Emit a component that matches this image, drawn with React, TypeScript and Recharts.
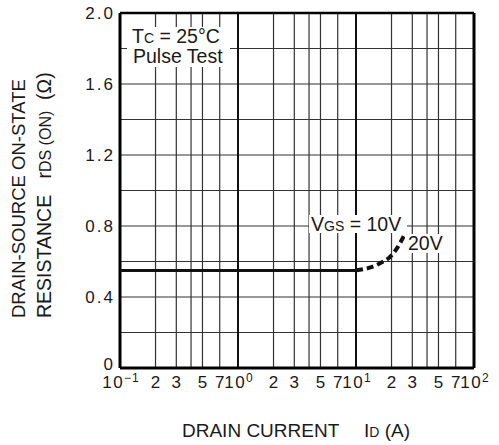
import React from "react";
import {
  LineChart,
  Line,
  XAxis,
  YAxis,
  CartesianGrid,
  ReferenceLine
} from "recharts";

// log axis grid: 2,3,4,5,7 between decades (4 has no label)
const xTicks = [0.1, 0.2, 0.3, 0.4, 0.5, 0.7, 1, 2, 3, 4, 5, 7, 10, 20, 30, 40, 50, 70, 100];
const xLabelDigits = [2, 3, 5, 7];
const yTicks = [0, 0.2, 0.4, 0.6, 0.8, 1.0, 1.2, 1.4, 1.6, 1.8, 2.0];
const yLabels = ["0", "0.4", "0.8", "1.2", "1.6", "2.0"];

// VGS = 10V (solid)
const solidId = [0.1, 10];
const solidRds = [0.55, 0.55];
// VGS = 20V (dashed)
const dashId = [10, 13, 16, 19.5, 22.5, 25.5];
const dashRds = [0.55, 0.565, 0.59, 0.627, 0.68, 0.745];

const solidData = solidId.map((id, i) => ({ id, rds: solidRds[i] }));
const dashData = dashId.map((id, i) => ({ id, rds: dashRds[i] }));

const FONT = "'Liberation Sans', Arial, Helvetica, sans-serif";
const INK = "#1a1a1a";

const XTick = (props: any) => {
  const { x, y, payload } = props;
  const v = payload.value;
  const exp = Math.floor(Math.log10(v) + 1e-9);
  const lead = Math.round(v / Math.pow(10, exp));
  if (lead === 1) {
    const sup = exp < 0 ? "\u2212" + -exp : String(exp);
    return (
      <text x={x + 1} y={y} dy="0.71em" textAnchor="middle" fontSize={17} letterSpacing={1.5}
        fill={INK} fontFamily={FONT}>
        10
        <tspan dy={-6} fontSize={12} letterSpacing={1}>{sup}</tspan>
      </text>
    );
  }
  if (!xLabelDigits.includes(lead)) return <g />;
  return (
    <text x={x} y={y} dy="0.71em" textAnchor="middle" fontSize={17} fill={INK} fontFamily={FONT}>
      {lead}
    </text>
  );
};

const YTick = (props: any) => {
  const { x, y, payload } = props;
  const v: number = payload.value;
  const label = v === 0 ? "0" : v.toFixed(1);
  if (!yLabels.includes(label)) return <g />;
  // the "0" sits a little above the bottom border, clear of the 10^-1 label
  const lift = v === 0 ? 4 : 0;
  return (
    <text x={x + 2} y={y - lift} dy="0.35em" textAnchor="end" fontSize={17} letterSpacing={2}
      fill={INK} fontFamily={FONT}>
      {label}
    </text>
  );
};

const Annotations: React.FC = () => (
  <svg
    width={499}
    height={445}
    style={{ position: "absolute", left: 0, top: 0, pointerEvents: "none" }}
    fontFamily={FONT}
    fill={INK}
  >
    <rect x={127} y={27} width={103} height={40} fill="#fff" />
    <text x={132} y={43} fontSize={19.5}>
      T<tspan fontSize={14}>C</tspan> = 25°C
    </text>
    <text x={133} y={63} fontSize={19.5}>Pulse Test</text>

    <rect x={309} y={215} width={98} height={18} fill="#fff" />
    <text x={311} y={231} fontSize={19.5}>
      V<tspan fontSize={14}>GS</tspan> = 10V
    </text>
    <rect x={405} y={234} width={41} height={19} fill="#fff" />
    <text x={408} y={250} fontSize={19.5}>20V</text>

    <g transform="translate(25,318) rotate(-90)">
      <text x={0} y={0} fontSize={18.5}>DRAIN-SOURCE ON-STATE</text>
    </g>
    <g transform="translate(51,318) rotate(-90)">
      <text x={0} y={0} fontSize={19.5}>
        RESISTANCE{"\u00a0\u00a0\u00a0"}r<tspan fontSize={16}>DS (ON)</tspan>
        {"\u00a0\u00a0"}(Ω)
      </text>
    </g>

    <text x={182} y={437} fontSize={19}>DRAIN CURRENT</text>
    <text x={364} y={437} fontSize={19}>
      I<tspan fontSize={14}>D</tspan> (A)
    </text>
  </svg>
);

export default function App() {
  return (
    <div style={{ position: "absolute", left: 0, top: 0, width: 499, height: 445, background: "#fff" }}>
      <LineChart width={499} height={445} margin={{ top: 13, right: 25, bottom: 47, left: 0 }}>
        <CartesianGrid stroke="#333" strokeWidth={1.2} />
        <XAxis
          dataKey="id"
          type="number"
          scale="log"
          domain={[0.1, 100]}
          ticks={xTicks}
          allowDataOverflow
          interval={0}
          height={30}
          axisLine={false}
          tickLine={false}
          tickSize={0}
          tickMargin={8}
          tick={<XTick />}
        />
        <YAxis
          type="number"
          domain={[0, 2]}
          ticks={yTicks}
          interval={0}
          width={120}
          axisLine={false}
          tickLine={false}
          tickSize={0}
          tickMargin={7}
          tick={<YTick />}
        />
        <ReferenceLine x={1} stroke="#111" strokeWidth={2} />
        <ReferenceLine x={10} stroke="#111" strokeWidth={2} />
        <ReferenceLine x={0.1} stroke="#000" strokeWidth={3} />
        <ReferenceLine x={100} stroke="#000" strokeWidth={3} />
        <ReferenceLine y={0} stroke="#000" strokeWidth={3} />
        <ReferenceLine y={2} stroke="#000" strokeWidth={2.5} />
        <Line
          data={solidData}
          dataKey="rds"
          type="monotone"
          stroke="#111"
          strokeWidth={3}
          dot={false}
          isAnimationActive={false}
        />
        <Line
          data={dashData}
          dataKey="rds"
          type="monotone"
          stroke="#111"
          strokeWidth={4}
          strokeDasharray="7 4"
          dot={false}
          isAnimationActive={false}
        />
      </LineChart>
      <Annotations />
    </div>
  );
}
